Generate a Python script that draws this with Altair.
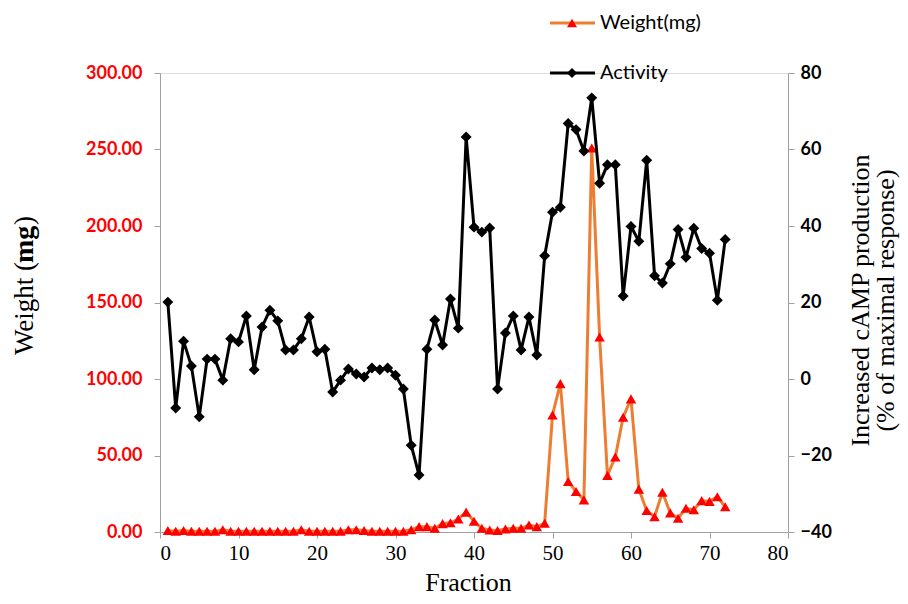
import altair as alt
import pandas as pd

fraction = list(range(1, 73))

weight_mg = [1.0, 0.5, 1.0, 0.5, 0.5, 0.5, 0.5, 1.5, 0.5, 0.5,
             0.5, 0.5, 0.5, 0.5, 0.5, 0.5, 0.5, 1.5, 0.5, 0.5,
             0.5, 0.5, 0.5, 1.5, 1.5, 1.0, 0.5, 0.5, 0.5, 0.5,
             0.5, 1.5, 3.5, 3.5, 2.5, 5.5, 6.0, 8.5, 13.0, 7.0,
             2.4, 1.3, 1.0, 2.0, 2.4, 2.4, 4.6, 3.5, 5.7, 76.5,
             97.0, 33.0, 26.5, 21.0, 251.0, 127.5, 37.0, 49.0, 75.0, 87.0,
             28.0, 14.0, 10.0, 26.0, 12.5, 9.0, 15.5, 14.5, 20.5, 20.0,
             23.0, 16.5]

activity = [20.1, -7.6, 9.9, 3.4, -9.9, 5.2, 5.2, -0.3, 10.5, 9.7,
            16.5, 2.4, 13.6, 18.0, 15.2, 7.6, 7.6, 10.5, 16.2, 7.1,
            7.8, -3.4, -0.3, 2.6, 1.3, 0.5, 2.9, 2.4, 2.9, 1.0,
            -2.6, -17.3, -25.1, 7.8, 15.4, 8.9, 20.9, 13.3, 63.3, 39.7,
            38.4, 39.5, -2.6, 12.0, 16.5, 7.6, 16.2, 6.3, 32.2, 43.6,
            44.9, 66.8, 65.2, 59.6, 73.5, 51.2, 56.0, 56.0, 21.7, 39.9,
            36.0, 57.2, 27.0, 25.1, 30.1, 39.1, 31.8, 39.4, 34.1, 32.9,
            20.6, 36.5]

weight_ticks = [0, 50, 100, 150, 200, 250, 300]
activity_ticks = [-40, -20, 0, 20, 40, 60, 80]
fraction_ticks = [0, 10, 20, 30, 40, 50, 60, 70, 80]
legend_labels = ["Weight(mg)", "Activity"]
left_title_parts = ["Weight (", "mg", ")"]
right_title_lines = ["Increased cAMP production", "(% of maximal response)"]

df = pd.DataFrame({"Fraction": fraction, "Weight": weight_mg, "Activity": activity})

W, H = 628, 459
AXIS_GRAY = "#A0A0A0"
SERIF = "Liberation Serif"
SANS = "Lato"

x_enc = alt.X("Fraction:Q",
              scale=alt.Scale(domain=[0, 80], nice=False, zero=False),
              axis=alt.Axis(values=fraction_ticks, title="Fraction", grid=False,
                            domainColor=AXIS_GRAY, tickColor=AXIS_GRAY, tickSize=6,
                            labelFont=SERIF, labelFontSize=21, labelColor="black",
                            labelPadding=4,
                            titleFont=SERIF, titleFontSize=26, titleFontWeight="normal",
                            titleColor="black", titleX=308, titleY=50,
                            titleBaseline="middle", titleAlign="center"))

wbase = alt.Chart(df).encode(
    x=x_enc,
    y=alt.Y("Weight:Q",
            scale=alt.Scale(domain=[0, 300], nice=False),
            axis=alt.Axis(values=weight_ticks, format=".2f", orient="left", grid=False,
                          title=None,
                          domainColor=AXIS_GRAY, tickColor=AXIS_GRAY, tickSize=6,
                          labelFont=SANS, labelFontSize=18, labelFontWeight="bold",
                          labelColor="#FF0000", labelPadding=12)),
)
w_line = wbase.mark_line(color="#ED7D31", strokeWidth=3)
w_pts = wbase.mark_point(shape="triangle-up", filled=True, color="#FF0000",
                         size=110, opacity=1)
weight_layer = alt.layer(w_line, w_pts)

abase = alt.Chart(df).encode(
    x=alt.X("Fraction:Q"),
    y=alt.Y("Activity:Q",
            scale=alt.Scale(domain=[-40, 80], nice=False, zero=False),
            axis=alt.Axis(values=activity_ticks, orient="right", grid=False,
                          title=right_title_lines,
                          domainColor=AXIS_GRAY, tickColor=AXIS_GRAY, tickSize=6,
                          labelFont=SANS, labelFontSize=18, labelFontWeight="bold",
                          labelColor="black", labelPadding=6,
                          titleFont=SERIF, titleFontSize=26, titleFontWeight="normal",
                          titleColor="black", titleAngle=270, titleX=72, titleY=227,
                          titleAlign="center", titleBaseline="middle",
                          titleLineHeight=25)),
)
a_line = abase.mark_line(color="black", strokeWidth=3)
a_pts = abase.mark_point(shape="diamond", filled=True, color="black", size=120, opacity=1)
activity_layer = alt.layer(a_line, a_pts)

# left axis title with bold "mg", laid out along the rotated baseline
title_layers = []
title_specs = [("normal", 27, 282), ("bold", 28, 190), ("normal", 27, 152)]
for part, (fw, fs, yy) in zip(left_title_parts, title_specs):
    tdf = pd.DataFrame({"t": [part]})
    title_layers.append(alt.Chart(tdf).mark_text(
        align="left", baseline="middle", angle=270, font=SERIF, fontSize=fs,
        fontWeight=fw, color="black").encode(
        x=alt.value(-135), y=alt.value(yy), text="t:N"))

legend_layers = []
leg_styles = [("#ED7D31", "#FF0000", "triangle-up", -50),
              ("black", "black", "diamond", 0)]
for lab, (lc, mc, shp, yy) in zip(legend_labels, leg_styles):
    ldf = pd.DataFrame({"label": [lab]})
    legend_layers.append(alt.Chart(ldf).mark_rule(color=lc, strokeWidth=3).encode(
        x=alt.value(390), x2=alt.value(435), y=alt.value(yy)))
    legend_layers.append(alt.Chart(ldf).mark_point(shape=shp, filled=True, color=mc,
                                                   size=100, opacity=1).encode(
        x=alt.value(412), y=alt.value(yy)))
    legend_layers.append(alt.Chart(ldf).mark_text(align="left", baseline="middle",
                                                  font=SANS, fontSize=20,
                                                  color="black").encode(
        x=alt.value(440), y=alt.value(yy), text="label:N"))

chart = alt.layer(weight_layer, activity_layer, *title_layers, *legend_layers).resolve_scale(
    y="independent"
).properties(
    width=W, height=H,
    autosize=alt.AutoSizeParams(type="none"),
    padding={"left": 152, "top": 65, "right": 112, "bottom": 64},
).configure_view(stroke=None).configure(background="white")

chart.save("out.html", embed_options={"renderer": "svg", "actions": False})
